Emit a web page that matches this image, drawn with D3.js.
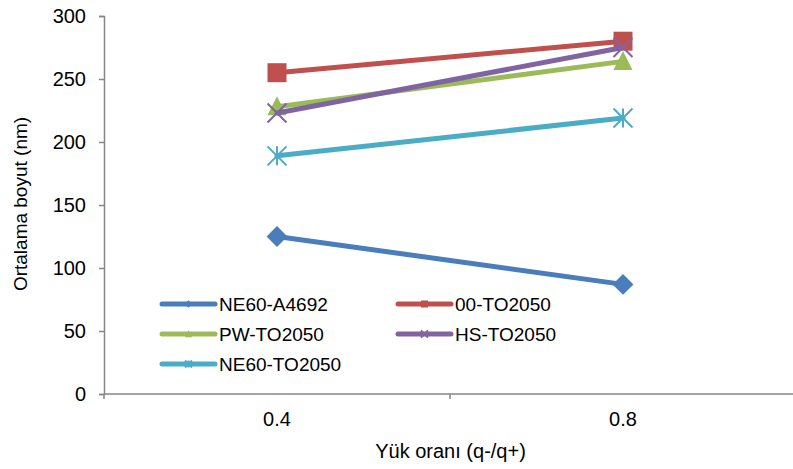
<!DOCTYPE html>
<html>
<head>
<meta charset="utf-8">
<script src="https://cdn.jsdelivr.net/npm/d3@7"></script>
<style>
  html, body { margin: 0; padding: 0; background: #fff; }
  svg { display: block; font-family: "Liberation Sans", Arial, sans-serif; }
</style>
</head>
<body>
<svg id="chart" width="793" height="469"></svg>
<script>
// Load ratio categories on the x axis
const categories = ["0.4", "0.8"];
// Mean size (nm) per series
const seriesNames = ["NE60-A4692", "00-TO2050", "PW-TO2050", "HS-TO2050", "NE60-TO2050"];
const ne60A4692 = [125, 87];
const to2050_00 = [255, 280];
const pwTO2050 = [228, 264];
const hsTO2050 = [223, 275];
const ne60TO2050 = [189, 219];
const yTicks = [0, 50, 100, 150, 200, 250, 300];

const colors = ["#4a7ebb", "#c0504d", "#9bbb59", "#8064a2", "#4bacc6"];
const markers = ["diamond", "square", "triangle", "x", "star"];
const values = [ne60A4692, to2050_00, pwTO2050, hsTO2050, ne60TO2050];

const svg = d3.select("#chart");
const plotLeft = 104, plotRight = 796, plotTop = 16, plotBottom = 394;

const x = d3.scaleBand().domain(categories).range([plotLeft, plotRight]);
const y = d3.scaleLinear().domain([0, 300]).range([plotBottom, plotTop]);

const axisColor = "#868686";

// Y axis
const yAxis = svg.append("g").attr("transform", `translate(${plotLeft},0)`)
  .call(d3.axisLeft(y).tickValues(yTicks).tickSize(5).tickPadding(13).tickFormat(d3.format("d")));
yAxis.select(".domain").attr("stroke", axisColor).attr("stroke-width", 1.5);
yAxis.selectAll(".tick line").attr("stroke", axisColor).attr("stroke-width", 1.5);
yAxis.selectAll(".tick text").attr("font-size", 20).attr("fill", "#000")
  .attr("font-family", "Liberation Sans, Arial, sans-serif");

// X axis: category labels centered, tick marks at band boundaries
const xg = svg.append("g");
xg.append("line").attr("x1", plotLeft).attr("x2", 793).attr("y1", plotBottom).attr("y2", plotBottom)
  .attr("stroke", axisColor).attr("stroke-width", 1.5);
const boundaries = [plotLeft].concat(categories.map(c => x(c) + x.bandwidth()));
xg.selectAll("line.tk").data(boundaries).enter().append("line").attr("class", "tk")
  .attr("x1", d => d).attr("x2", d => d).attr("y1", plotBottom).attr("y2", plotBottom + 5)
  .attr("stroke", axisColor).attr("stroke-width", 1.5);
xg.selectAll("text").data(categories).enter().append("text")
  .attr("x", d => x(d) + x.bandwidth() / 2).attr("y", 426)
  .attr("text-anchor", "middle").attr("font-size", 20).text(d => d);

// Axis titles
svg.append("text").attr("x", 450.5).attr("y", 458).attr("text-anchor", "middle")
  .attr("font-size", 20).text("Yük oranı (q-/q+)");
svg.append("text").attr("transform", "translate(27,204) rotate(-90)").attr("text-anchor", "middle")
  .attr("font-size", 19).text("Ortalama boyut (nm)");

function drawMarker(g, type, cx, cy, color, s) {
  if (type === "diamond") {
    g.append("path").attr("d", `M${cx},${cy - s * 0.55}L${cx + s * 0.55},${cy}L${cx},${cy + s * 0.55}L${cx - s * 0.55},${cy}Z`)
      .attr("fill", color);
  } else if (type === "square") {
    g.append("rect").attr("x", cx - s / 2).attr("y", cy - s / 2).attr("width", s).attr("height", s)
      .attr("fill", color);
  } else if (type === "triangle") {
    g.append("path").attr("d", `M${cx},${cy - s * 0.55}L${cx + s * 0.5},${cy + s * 0.45}L${cx - s * 0.5},${cy + s * 0.45}Z`)
      .attr("fill", color);
  } else if (type === "x") {
    const h = s / 2;
    g.append("path").attr("d", `M${cx - h},${cy - h}L${cx + h},${cy + h}M${cx - h},${cy + h}L${cx + h},${cy - h}`)
      .attr("stroke", color).attr("stroke-width", 2).attr("fill", "none");
  } else if (type === "star") {
    const h = s / 2;
    g.append("path").attr("d", `M${cx - h},${cy - h}L${cx + h},${cy + h}M${cx - h},${cy + h}L${cx + h},${cy - h}M${cx},${cy - h}L${cx},${cy + h}`)
      .attr("stroke", color).attr("stroke-width", 2).attr("fill", "none");
  }
}

// Series lines and markers
const line = d3.line().x((d, i) => x(categories[i]) + x.bandwidth() / 2).y(d => y(d));
values.forEach((vals, k) => {
  const g = svg.append("g");
  g.append("path").datum(vals).attr("d", line).attr("fill", "none")
    .attr("stroke", colors[k]).attr("stroke-width", 5).attr("stroke-linecap", "round");
  vals.forEach((v, i) => {
    drawMarker(g, markers[k], x(categories[i]) + x.bandwidth() / 2, y(v), colors[k], 19);
  });
});

// Legend
const legendPos = [[162, 304], [398, 304], [162, 334], [398, 334], [162, 364]];
seriesNames.forEach((name, k) => {
  const [lx, ly] = legendPos[k];
  const g = svg.append("g");
  g.append("line").attr("x1", lx).attr("x2", lx + 53).attr("y1", ly).attr("y2", ly)
    .attr("stroke", colors[k]).attr("stroke-width", 5).attr("stroke-linecap", "round");
  drawMarker(g, markers[k], lx + 26.5, ly, colors[k], 7);
  g.append("text").attr("x", lx + 57).attr("y", ly + 7).attr("font-size", 19).text(name);
});
</script>
</body>
</html>
